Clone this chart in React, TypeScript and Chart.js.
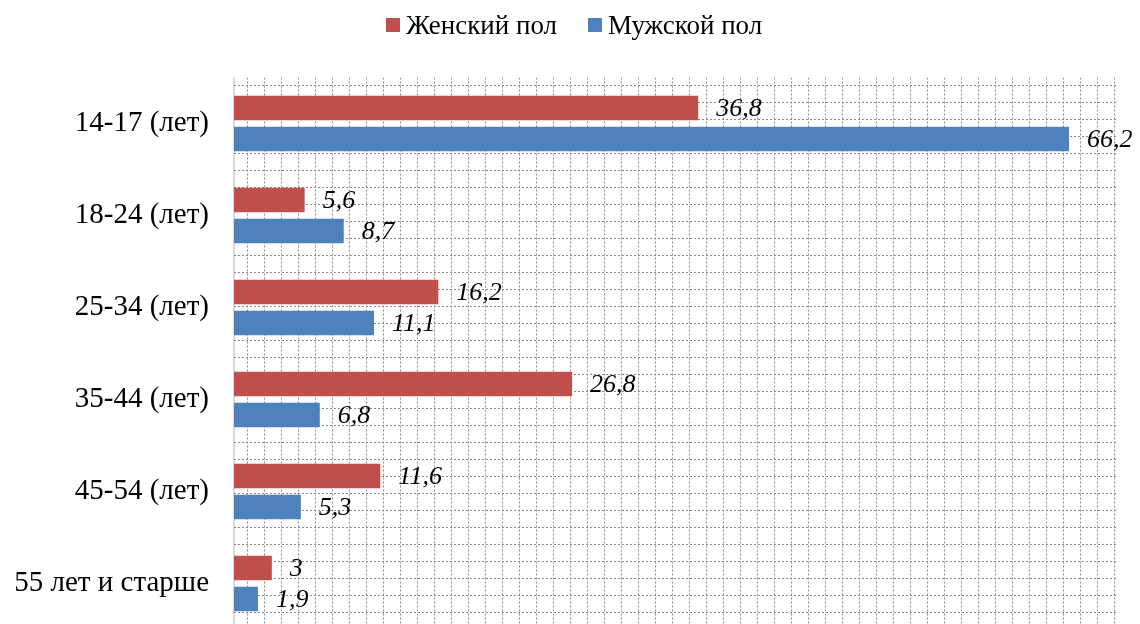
import React, { useEffect, useRef } from "react";
import { Chart, registerables } from "chart.js";

Chart.register(...registerables);

const categories = ["14-17 (лет)", "18-24 (лет)", "25-34 (лет)", "35-44 (лет)", "45-54 (лет)", "55 лет и старше"];
const femaleValues = [36.8, 5.6, 16.2, 26.8, 11.6, 3];
const maleValues = [66.2, 8.7, 11.1, 6.8, 5.3, 1.9];
const seriesNames = ["Женский пол", "Мужской пол"];
const seriesColors = ["#C0504D", "#4F81BD"];

const FONT = "'Liberation Serif', 'Times New Roman', serif";

const patternPlugin = {
  id: "patternGrid",
  beforeDatasetsDraw(chart: any) {
    const { ctx, chartArea } = chart;
    const { left, right, top, bottom } = chartArea;
    ctx.save();
    ctx.beginPath();
    ctx.rect(left, top, right - left, bottom - top);
    ctx.clip();
    ctx.strokeStyle = "#8a8a8a";
    ctx.lineWidth = 1;
    ctx.setLineDash([2, 2]);
    for (let x = left + 12.7; x <= right; x += 17) {
      const px = Math.round(x) + 0.5;
      ctx.beginPath();
      ctx.moveTo(px, top);
      ctx.lineTo(px, bottom);
      ctx.stroke();
    }
    for (let y = top + 7.5; y <= bottom; y += 17) {
      const py = Math.round(y) + 0.5;
      ctx.beginPath();
      ctx.moveTo(left, py);
      ctx.lineTo(right, py);
      ctx.stroke();
    }
    ctx.restore();
  },
};

const labelPlugin = {
  id: "valueLabels",
  afterDatasetsDraw(chart: any) {
    const { ctx } = chart;
    ctx.save();
    ctx.font = `italic 26px ${FONT}`;
    ctx.fillStyle = "#000";
    ctx.textAlign = "left";
    ctx.textBaseline = "middle";
    chart.data.datasets.forEach((ds: any, di: number) => {
      const meta = chart.getDatasetMeta(di);
      meta.data.forEach((bar: any, i: number) => {
        const v = ds.data[i];
        const txt = String(v).replace(".", ",");
        ctx.fillText(txt, bar.x + 18, bar.y + 1);
      });
    });
    ctx.restore();
  },
};

export default function App() {
  const canvasRef = useRef<HTMLCanvasElement | null>(null);

  useEffect(() => {
    document.body.style.margin = "0";
    document.body.style.overflow = "hidden";
    const canvas = canvasRef.current;
    if (!canvas) return;
    const chart = new Chart(canvas, {
      type: "bar",
      data: {
        labels: categories,
        datasets: [
          {
            label: seriesNames[0],
            data: femaleValues,
            backgroundColor: seriesColors[0],
            categoryPercentage: 0.674,
            barPercentage: 0.79,
          },
          {
            label: seriesNames[1],
            data: maleValues,
            backgroundColor: seriesColors[1],
            categoryPercentage: 0.674,
            barPercentage: 0.79,
          },
        ],
      },
      options: {
        indexAxis: "y",
        responsive: false,
        animation: false,
        devicePixelRatio: 1,
        layout: { padding: { top: 77.5, bottom: 10.5, right: 23, left: 0 } },
        plugins: {
          legend: { display: false },
          tooltip: { enabled: false },
        },
        scales: {
          x: {
            display: false,
            min: 0,
            max: 70,
          },
          y: {
            afterFit(scale: any) {
              scale.width = 234;
            },
            grid: { drawOnChartArea: false, drawTicks: false },
            border: { display: true, color: "#D9D9D9", width: 2 },
            ticks: {
              color: "#000",
              padding: 25,
              font: { family: FONT, size: 29 },
            },
          },
        },
      },
      plugins: [patternPlugin, labelPlugin],
    } as any);
    return () => chart.destroy();
  }, []);

  const legendItem = (name: string, color: string, ml: number) => (
    <div style={{ display: "flex", alignItems: "center", marginLeft: ml }}>
      <div style={{ width: 14, height: 14, background: color, marginRight: 6 }} />
      <span style={{ fontFamily: FONT, fontSize: 27, lineHeight: "27px", color: "#000" }}>{name}</span>
    </div>
  );

  return (
    <div style={{ position: "relative", width: 1140, height: 624, overflow: "hidden", background: "#fff" }}>
      <canvas ref={canvasRef} width={1140} height={672} style={{ position: "absolute", left: 0, top: 0 }} />
      <div style={{ position: "absolute", left: 386, top: 11, height: 28, display: "flex", alignItems: "center" }}>
        {legendItem(seriesNames[0], seriesColors[0], 0)}
        {legendItem(seriesNames[1], seriesColors[1], 31)}
      </div>
    </div>
  );
}
